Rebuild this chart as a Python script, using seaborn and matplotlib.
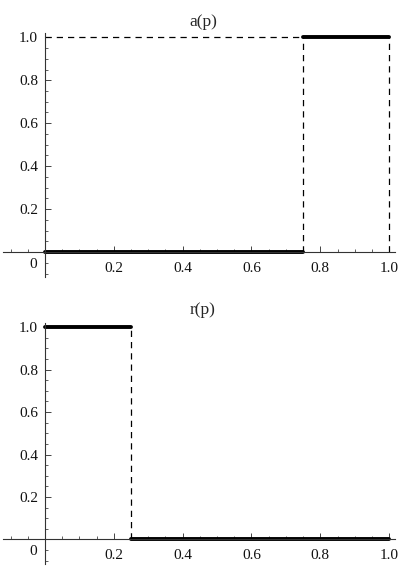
import numpy as np
import pandas as pd
import matplotlib
matplotlib.use("Agg")
import matplotlib.pyplot as plt
from matplotlib.ticker import FixedLocator
import seaborn as sns

# step functions: a(p) jumps 0 -> 1 at p = 0.75, r(p) jumps 1 -> 0 at p = 0.25
a_p = [0.0, 0.75, 0.75, 1.0]
a_val = [0.0, 0.0, 1.0, 1.0]
r_p = [0.0, 0.25, 0.25, 1.0]
r_val = [1.0, 1.0, 0.0, 0.0]
x_ticks = [0.2, 0.4, 0.6, 0.8, 1.0]
y_ticks = [0.2, 0.4, 0.6, 0.8, 1.0]
minor_ticks = [-0.1, -0.05, 0.05, 0.1, 0.15, 0.25, 0.3, 0.35, 0.45, 0.5, 0.55,
               0.65, 0.7, 0.75, 0.85, 0.9, 0.95]

sns.set_style("white")
plt.rcParams["font.family"] = ["Liberation Serif", "DejaVu Serif"]

W, H = 407, 583
fig = plt.figure(figsize=(W / 100, H / 100), dpi=100)


def make_ax(top_px, bottom_px):
    # axes box in pixels: x from 3 to 395
    return fig.add_axes([3 / W, 1 - bottom_px / H, 392 / W, (bottom_px - top_px) / H])


def style(ax, title, title_y):
    ax.set_xlim(-0.122, 1.017)
    ax.set_ylim(-0.116, 1.02)
    for s in ["top", "right"]:
        ax.spines[s].set_visible(False)
    ax.spines["left"].set_position(("data", 0))
    ax.spines["bottom"].set_position(("data", 0))
    for s in ["left", "bottom"]:
        ax.spines[s].set_linewidth(0.8)
        ax.spines[s].set_color("#333333")
    ax.xaxis.set_major_locator(FixedLocator(x_ticks))
    ax.yaxis.set_major_locator(FixedLocator(y_ticks))
    ax.xaxis.set_minor_locator(FixedLocator(minor_ticks))
    ax.yaxis.set_minor_locator(FixedLocator(minor_ticks))
    ax.set_xticklabels([f"{t:.1f}" for t in x_ticks])
    ax.set_yticklabels([f"{t:.1f}" for t in y_ticks])
    ax.tick_params(bottom=True, left=True, which="both")
    ax.tick_params(axis="x", which="both", direction="in", pad=7, labelsize=11, colors="#111111")
    ax.tick_params(axis="y", which="both", direction="in", pad=5, labelsize=11, colors="#111111")
    ax.tick_params(which="major", length=4, width=0.7, color="#444444")
    ax.tick_params(which="minor", length=2.2, width=0.6, color="#444444")
    ax.text(-0.022, -0.058, "0", ha="right", va="center", fontsize=11, color="#111111")
    ax.set_xlabel("")
    ax.set_ylabel("")
    fig.text(203 / W, 1 - title_y / H, title, ha="center", va="center", fontsize=12.5)


dash = dict(color="black", linewidth=0.9, linestyle=(0, (5, 4)))

# top panel
ax1 = make_ax(33, 277)
df_a = pd.DataFrame({"p": a_p, "v": a_val})
sns.lineplot(data=df_a.iloc[:2], x="p", y="v", ax=ax1, color="black", linewidth=2.8, estimator=None)
sns.lineplot(data=df_a.iloc[2:], x="p", y="v", ax=ax1, color="black", linewidth=2.8, estimator=None)
ax1.plot([a_p[0], a_p[1]], [a_val[2], a_val[2]], **dash)
ax1.plot([a_p[1], a_p[2]], [a_val[1], a_val[2]], **dash)
ax1.plot([a_p[3], a_p[3]], [a_val[0], a_val[3]], **dash)
style(ax1, "a(p)", 22)

# bottom panel
ax2 = make_ax(323, 564)
df_r = pd.DataFrame({"p": r_p, "v": r_val})
sns.lineplot(data=df_r.iloc[:2], x="p", y="v", ax=ax2, color="black", linewidth=2.8, estimator=None)
sns.lineplot(data=df_r.iloc[2:], x="p", y="v", ax=ax2, color="black", linewidth=2.8, estimator=None)
ax2.plot([r_p[1], r_p[2]], [r_val[2], r_val[1]], **dash)
style(ax2, "r(p)", 310)

fig.savefig("out.png", dpi=100)
